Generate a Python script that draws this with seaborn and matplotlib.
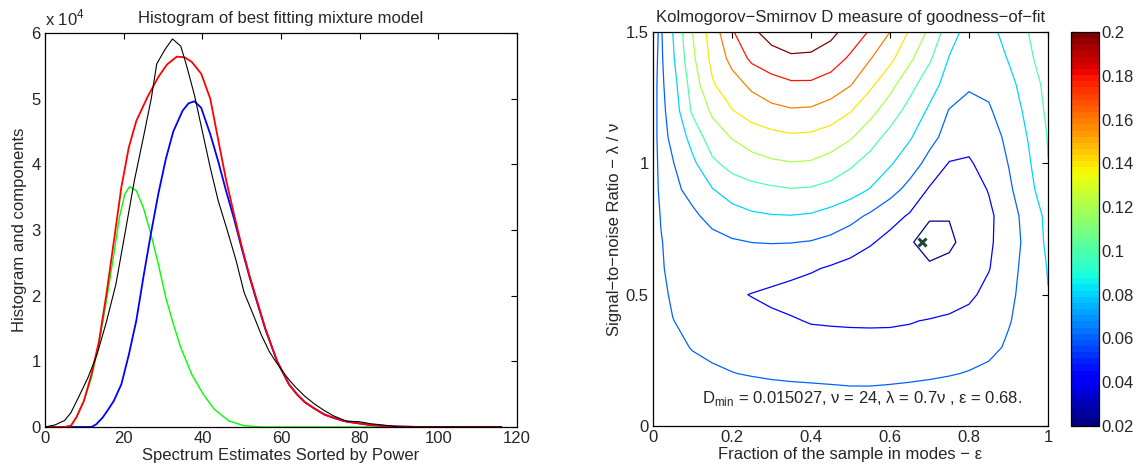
import numpy as np
import pandas as pd
import matplotlib
matplotlib.use('Agg')
import matplotlib.pyplot as plt
import seaborn as sns

# ---- left panel: histogram and mixture components (y in units of 1e4) ----
hist_x = [0, 2.5, 5, 6.6, 8.5, 10.9, 13.2, 15.6, 18, 20.3, 22.7, 25, 27, 28.4, 30.5, 32.4,
          34.5, 36, 38, 40, 42, 44, 46.3, 48.5, 50.6, 53, 55, 57, 58.6, 60, 62, 63.8, 66,
          68.5, 71, 73.3, 76.6, 79.9, 82.7, 87.4, 90, 116]
hist_y = [0, 0.03, 0.1, 0.22, 0.45, 0.75, 1.1, 1.6, 2.17, 2.94, 3.75, 4.41, 5.0, 5.53, 5.75, 5.91,
          5.8, 5.5, 5.05, 4.5, 3.95, 3.45, 3.0, 2.55, 2.05, 1.7, 1.4, 1.15, 1.0, 0.88, 0.72, 0.6, 0.47,
          0.35, 0.25, 0.17, 0.09, 0.08, 0.05, 0.02, 0.0, 0.0]

mix_x = [0, 5, 6.6, 8, 9.9, 11.8, 13.7, 15.6, 17.5, 19.4, 21.3, 23.2, 26, 28.8, 31, 33.5, 35.5,
         37.3, 39.7, 42, 44, 46, 48, 50, 52, 54, 56, 59, 62, 64, 66, 68.5, 71, 73.3, 76, 78,
         82.7, 88, 95, 116]
mix_y = [0, 0, 0.02, 0.15, 0.4, 0.8, 1.3, 2.02, 2.83, 3.65, 4.26, 4.66, 5.02, 5.33, 5.52, 5.64, 5.63,
         5.56, 5.38, 5.0, 4.38, 3.77, 3.25, 2.75, 2.3, 1.9, 1.5, 1.0, 0.65, 0.5, 0.38, 0.28, 0.19, 0.14,
         0.09, 0.07, 0.03, 0.01, 0, 0]

comp2_x = [0, 10, 11.8, 13, 14.6, 16, 17.5, 19.4, 21.3, 23.2, 25, 26.9, 28.8, 30.7, 32.6, 35, 36.5,
           38, 39.7, 42, 44, 46, 48, 50, 52, 54, 56, 59, 62, 64, 66, 68.5, 71, 73.3, 76, 78, 82.7,
           88, 95, 116]
comp2_y = [0, 0, 0, 0.04, 0.14, 0.26, 0.4, 0.65, 1.1, 1.62, 2.28, 2.94, 3.55, 4.08, 4.5, 4.82, 4.93,
           4.96, 4.86, 4.46, 4.05, 3.6, 3.18, 2.72, 2.28, 1.88, 1.49, 1.0, 0.65, 0.5, 0.38, 0.28, 0.19,
           0.14, 0.09, 0.07, 0.03, 0.01, 0, 0]

comp1_x = [0, 5, 6.6, 8, 9.9, 11.8, 13.7, 15.6, 17.5, 18.9, 20.3, 21.5, 23.2, 25, 26.9, 28.8, 30.7,
           32.6, 34.5, 37.3, 40.2, 43, 46.8, 50.6, 55, 116]
comp1_y = [0, 0, 0.02, 0.15, 0.4, 0.75, 1.26, 1.92, 2.63, 3.19, 3.55, 3.66, 3.6, 3.34, 2.94, 2.48, 1.97,
           1.57, 1.21, 0.8, 0.5, 0.27, 0.09, 0.02, 0, 0]

# ---- right panel: KS D statistic read on an (epsilon, lambda/nu) grid ----
eps_grid = [0, 0.02, 0.05, 0.1, 0.15, 0.2, 0.25, 0.3, 0.35, 0.4, 0.45, 0.5, 0.55, 0.6, 0.65,
            0.7, 0.75, 0.8, 0.85, 0.9, 0.95, 1.0]
lam_grid = [0, 0.1, 0.2, 0.3, 0.4, 0.5, 0.6, 0.7, 0.8, 0.9, 1.0, 1.1, 1.2, 1.3, 1.4, 1.5]

d_00 = [0.079, 0.079, 0.078, 0.078, 0.077, 0.077, 0.076, 0.075, 0.075, 0.074, 0.074, 0.073, 0.073, 0.074, 0.074, 0.075, 0.076, 0.076, 0.077, 0.077, 0.078, 0.078]
d_01 = [0.078, 0.077, 0.076, 0.075, 0.074, 0.073, 0.072, 0.070, 0.069, 0.068, 0.067, 0.066, 0.066, 0.067, 0.068, 0.070, 0.071, 0.072, 0.073, 0.074, 0.075, 0.076]
d_02 = [0.075, 0.073, 0.070, 0.066, 0.063, 0.0605, 0.0585, 0.057, 0.056, 0.0555, 0.055, 0.0545, 0.0545, 0.055, 0.056, 0.057, 0.0588, 0.061, 0.0635, 0.066, 0.0685, 0.071]
d_03 = [0.074, 0.070, 0.065, 0.059, 0.0555, 0.053, 0.051, 0.0495, 0.048, 0.047, 0.046, 0.046, 0.046, 0.046, 0.047, 0.048, 0.050, 0.052, 0.056, 0.062, 0.067, 0.072]
d_04 = [0.073, 0.068, 0.0605, 0.054, 0.050, 0.047, 0.045, 0.043, 0.0415, 0.039, 0.0385, 0.038, 0.0378, 0.038, 0.039, 0.0412, 0.044, 0.047, 0.052, 0.059, 0.066, 0.075]
d_05 = [0.072, 0.065, 0.057, 0.050, 0.046, 0.042, 0.0395, 0.037, 0.034, 0.031, 0.029, 0.027, 0.026, 0.025, 0.025, 0.026, 0.029, 0.036, 0.046, 0.056, 0.067, 0.0795]
d_06 = [0.071, 0.062, 0.055, 0.051, 0.050, 0.049, 0.048, 0.047, 0.045, 0.042, 0.038, 0.034, 0.029, 0.025, 0.022, 0.0215, 0.023, 0.027, 0.039, 0.054, 0.066, 0.081]
d_07 = [0.070, 0.061, 0.054, 0.052, 0.055, 0.058, 0.0602, 0.0608, 0.0605, 0.059, 0.055, 0.049, 0.042, 0.034, 0.021, 0.016, 0.018, 0.024, 0.037, 0.050, 0.066, 0.084]
d_08 = [0.069, 0.059, 0.054, 0.057, 0.065, 0.072, 0.077, 0.079, 0.0795, 0.078, 0.073, 0.066, 0.057, 0.047, 0.038, 0.021, 0.0205, 0.027, 0.036, 0.051, 0.068, 0.085]
d_09 = [0.068, 0.056, 0.056, 0.065, 0.079, 0.089, 0.094, 0.097, 0.099, 0.098, 0.094, 0.088, 0.079, 0.067, 0.054, 0.038, 0.032, 0.031, 0.041, 0.056, 0.075, 0.090]
d_10 = [0.067, 0.055, 0.059, 0.076, 0.096, 0.107, 0.113, 0.117, 0.119, 0.118, 0.112, 0.103, 0.093, 0.082, 0.069, 0.054, 0.039, 0.038, 0.047, 0.0605, 0.077, 0.0998]
d_11 = [0.066, 0.054, 0.064, 0.087, 0.111, 0.121, 0.129, 0.134, 0.137, 0.136, 0.131, 0.122, 0.108, 0.094, 0.082, 0.066, 0.053, 0.046, 0.052, 0.064, 0.081, 0.101]
d_12 = [0.065, 0.055, 0.068, 0.103, 0.123, 0.139, 0.149, 0.155, 0.158, 0.157, 0.151, 0.141, 0.126, 0.110, 0.093, 0.077, 0.059, 0.052, 0.058, 0.069, 0.085, 0.104]
d_13 = [0.064, 0.056, 0.072, 0.109, 0.138, 0.152, 0.164, 0.172, 0.177, 0.177, 0.171, 0.161, 0.144, 0.126, 0.107, 0.088, 0.072, 0.063, 0.064, 0.075, 0.088, 0.107]
d_14 = [0.064, 0.057, 0.077, 0.116, 0.145, 0.166, 0.184, 0.192, 0.197, 0.196, 0.190, 0.177, 0.161, 0.145, 0.124, 0.103, 0.079, 0.068, 0.070, 0.081, 0.096, 0.111]
d_15 = [0.064, 0.058, 0.080, 0.120, 0.149, 0.178, 0.196, 0.208, 0.214, 0.213, 0.205, 0.192, 0.178, 0.160, 0.138, 0.116, 0.089, 0.072, 0.075, 0.086, 0.100, 0.114]

d_levels = [0.02, 0.04, 0.06, 0.08, 0.10, 0.12, 0.14, 0.16, 0.18, 0.20]
cbar_labels = ['0.02', '0.04', '0.06', '0.08', '0.1', '0.12', '0.14', '0.16', '0.18', '0.2']
eps_min, lam_min = 0.68, 0.7

# ---- style ----
sns.set_theme(style='white')
plt.rcParams['font.family'] = ['Liberation Sans', 'DejaVu Sans']
plt.rcParams['mathtext.fontset'] = 'custom'
plt.rcParams['mathtext.rm'] = 'Liberation Sans'
fs = 12
plt.rcParams['font.size'] = fs
minus = '\u2212'

fig = plt.figure(figsize=(11.43, 4.69), dpi=100)
ax1 = fig.add_axes([0.0394, 0.0896, 0.413, 0.840])
ax2 = fig.add_axes([0.5713, 0.0917, 0.3456, 0.840])
cax = fig.add_axes([0.937, 0.0917, 0.0245, 0.840])

# left panel
curves = [(comp1_x, comp1_y, '#00ff00', 1.0),
          (comp2_x, comp2_y, '#0000ff', 1.3),
          (mix_x, mix_y, '#ff0000', 1.3),
          (hist_x, hist_y, 'black', 0.8)]
for xs, ys, col, lw in curves:
    df = pd.DataFrame({'x': xs, 'y': ys})
    sns.lineplot(data=df, x='x', y='y', ax=ax1, color=col, linewidth=lw,
                 estimator=None, sort=False)

ax1.set_xlim(0, 120)
ax1.set_ylim(0, 6)
ax1.set_xticks(range(0, 121, 20))
ax1.set_yticks(range(0, 7))
ax1.set_xticklabels([str(v) for v in range(0, 121, 20)])
ax1.set_yticklabels([str(v) for v in range(0, 7)])
ax1.text(0.0, 1.012, r'x 10$^{4}$', transform=ax1.transAxes, ha='left', va='bottom', fontsize=fs)
ax1.set_title('Histogram of best fitting mixture model', fontsize=fs, pad=7)
ax1.set_xlabel('Spectrum Estimates Sorted by Power', fontsize=fs, labelpad=1)
ax1.set_ylabel('Histogram and components', fontsize=fs, labelpad=3)

# right panel
D = np.array([d_00, d_01, d_02, d_03, d_04, d_05, d_06, d_07,
              d_08, d_09, d_10, d_11, d_12, d_13, d_14, d_15])
E, L = np.meshgrid(eps_grid, lam_grid)
jet64 = plt.get_cmap('jet').resampled(64)
norm = matplotlib.colors.Normalize(vmin=0.02, vmax=0.2)
ax2.contour(E, L, D, levels=d_levels, cmap=jet64, norm=norm, linewidths=0.9)
ax2.plot([eps_min], [lam_min], marker='x', color='#1d4a3a', markersize=5.5, mew=2.2, linestyle='none')
ax2.text(0.123, 0.088,
         r'D$_{\mathrm{min}}$ = 0.015027, ν = 24, λ = 0.7ν , ε = 0.68.',
         ha='left', va='baseline', fontsize=fs)

ax2.set_xlim(0, 1)
ax2.set_ylim(0, 1.5)
ax2.set_xticks([0, 0.2, 0.4, 0.6, 0.8, 1])
ax2.set_xticklabels(['0', '0.2', '0.4', '0.6', '0.8', '1'])
ax2.set_yticks([0, 0.5, 1, 1.5])
ax2.set_yticklabels(['0', '0.5', '1', '1.5'])
ax2.set_title(f'Kolmogorov{minus}Smirnov D measure of goodness{minus}of{minus}fit', fontsize=fs, pad=7)
ax2.set_xlabel(f'Fraction of the sample in modes {minus} ε', fontsize=fs, labelpad=1)
ax2.set_ylabel(f'Signal{minus}to{minus}noise Ratio {minus} λ / ν', fontsize=fs, labelpad=3)

# colorbar
sm = matplotlib.cm.ScalarMappable(norm=norm, cmap=jet64)
cb = fig.colorbar(sm, cax=cax, ticks=d_levels)
cb.ax.set_yticklabels(cbar_labels)
cb.outline.set_edgecolor('black')
cb.outline.set_linewidth(0.9)
cax.tick_params(direction='in', length=4, left=True, right=True, labelsize=fs, pad=2, width=0.8, color='black')

for ax in (ax1, ax2):
    ax.tick_params(direction='in', length=4, top=True, right=True, labelsize=fs,
                   width=0.8, color='black', pad=3)
    for sp in ax.spines.values():
        sp.set_visible(True)
        sp.set_color('black')
        sp.set_linewidth(0.9)

fig.savefig('out.png', dpi=100)
